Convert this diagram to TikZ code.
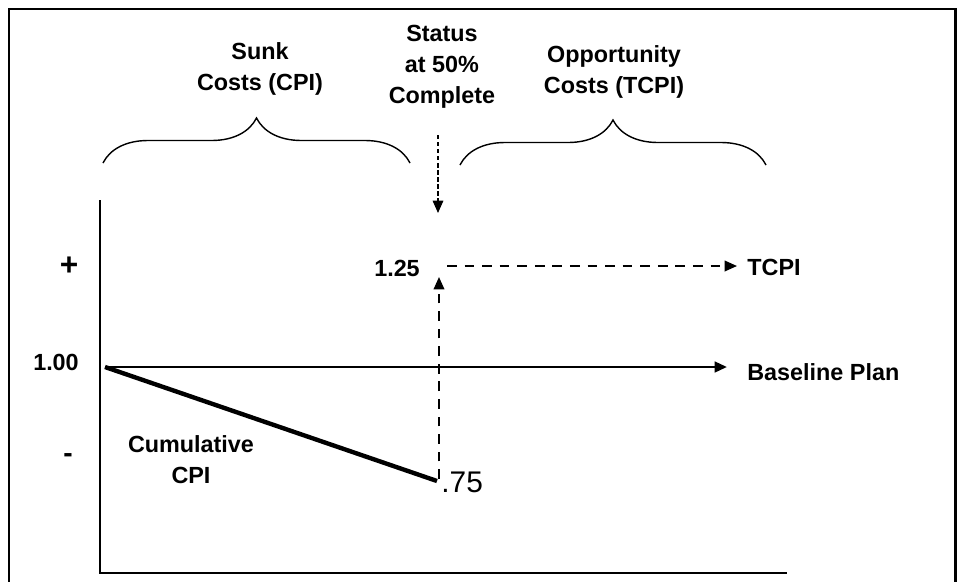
\documentclass[tikz,border=0pt]{standalone}
\usepackage{fontspec}
\setmainfont{Liberation Sans}
\usetikzlibrary{arrows.meta,decorations.pathreplacing}
\begin{document}
\begin{tikzpicture}[x=0.02cm,y=-0.02cm,
  lbl/.style={font=\bfseries\fontsize{13.3}{17.6}\selectfont,inner sep=0pt,align=center},
  tip/.style={-{Triangle[length=7pt,width=6pt]}},
  dsh/.style={line width=1pt,dash pattern=on 5.5pt off 4.5pt},
  brc/.style={decorate,decoration={brace,amplitude=0.9cm},line width=0.8pt}]
\useasboundingbox (0,0) rectangle (961,582);
\draw[line width=1.7pt] (9,582) -- (9,9) -- (955,9) -- (955,582);
% headings and braces
\node[lbl] (sunk) at (260,69) {Sunk\\Costs (CPI)};
\node[lbl] (status) at (442,67) {Status\\at 50\%\\Complete};
\node[lbl] (opp) at (614,72) {Opportunity\\Costs (TCPI)};
\draw[brc] (103,163) -- (410,163);
\draw[brc] (460,165) -- (766,165);
\coordinate (now) at (438,135);
\coordinate (nowend) at (438,213);
\draw[tip,line width=0.8pt,dash pattern=on 2.5pt off 1.5pt] (now) -- (nowend);
% axes
\coordinate (ytop) at (100,200);
\coordinate (O) at (100,573);
\coordinate (xend) at (787,573);
\draw[line width=1pt] (ytop) -- (O) -- (xend);
\node[lbl,font=\bfseries\fontsize{18}{20}\selectfont] (plus) at (69,266) {+};
\node[lbl] (one) at (56,362) {1.00};
\node[lbl,font=\bfseries\fontsize{16}{20}\selectfont] (minus) at (68,458) {-};
% baseline and cpi
\coordinate (start) at (105,367);
\node[lbl,anchor=west] (base) at (747,372) {Baseline Plan};
\draw[tip,line width=1.5pt,shorten >=0.4cm] (start) -- (start -| base.west);
\coordinate (low) at (437,481);
\draw[line width=2.5pt] (start) -- (low);
\node[lbl] (cum) at (191,460) {Cumulative\\CPI};
\node[font=\fontsize{17}{20}\selectfont,inner sep=0pt,anchor=west] (sevfive) at (441,482) {.75};
% tcpi
\node[lbl] (high) at (397,268) {1.25};
\node[lbl,anchor=west] (tcpi) at (747,267) {TCPI};
\coordinate (up) at (439,479);
\coordinate (uptip) at (439,277);
\coordinate (right) at (447,266);
\draw[tip,dsh] (up) -- (uptip);
\draw[tip,dsh,shorten >=0.2cm] (right) -- (right -| tcpi.west);
\end{tikzpicture}
\end{document}
